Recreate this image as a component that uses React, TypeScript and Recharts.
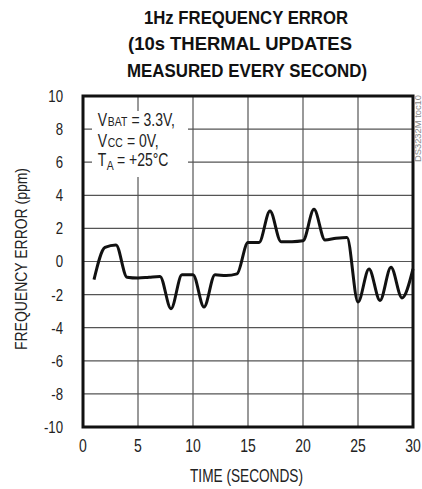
import {
  CartesianGrid,
  Line,
  LineChart,
  ReferenceArea,
  XAxis,
  YAxis,
} from "recharts";

// one reading per second
const seconds = [
  1, 2, 3, 4, 5, 6, 7, 8, 9, 10, 11, 12, 13, 14, 15, 16, 17, 18, 19, 20, 21,
  22, 23, 24, 25, 26, 27, 28, 29, 30,
];
const errorPpm = [
  -1.1, 0.85, 1.0, -0.95, -1.0, -0.95, -0.9, -2.85, -0.8, -0.8, -2.75, -0.8,
  -0.85, -0.75, 1.15, 1.15, 3.05, 1.2, 1.2, 1.25, 3.15, 1.3, 1.4, 1.45, -2.45,
  -0.45, -2.35, -0.35, -2.2, -0.45,
];
const xTicks = [0, 5, 10, 15, 20, 25, 30];
const yTicks = [-10, -8, -6, -4, -2, 0, 2, 4, 6, 8, 10];

const data = seconds.map((t, i) => ({ t, ppm: errorPpm[i] }));

const font = "'Liberation Sans', Arial, Helvetica, sans-serif";
const squeeze = 0.8; // fake a condensed face

const XTick = (props: any) => {
  const { x, y, payload } = props;
  return (
    <text
      transform={`translate(${x},${y}) scale(${squeeze},1)`}
      textAnchor="middle"
      fontFamily={font}
      fontSize={17.5}
      fill="#222"
    >
      {payload.value}
    </text>
  );
};

const YTick = (props: any) => {
  const { x, y, payload } = props;
  return (
    <text
      transform={`translate(${x},${y}) scale(${squeeze},1)`}
      textAnchor="end"
      dy="0.36em"
      fontFamily={font}
      fontSize={16.5}
      fill="#222"
    >
      {payload.value}
    </text>
  );
};

// each piece of the note is its own text, squeezed like the ticks
const Piece = ({ x, y, size, children }: any) => (
  <text
    transform={`translate(${x},${y}) scale(${squeeze},1)`}
    fontFamily={font}
    fontSize={size}
    fill="#222"
  >
    {children}
  </text>
);

export default function App() {
  return (
    <div style={{ position: "absolute", left: 0, top: 0, width: 422, height: 489, background: "#fff" }}>
      <LineChart
        width={422}
        height={489}
        data={data}
        margin={{ top: 96, right: 9, left: 23, bottom: 32 }}
      >
        <CartesianGrid stroke="#555" strokeWidth={1.2} />
        <XAxis
          dataKey="t"
          type="number"
          domain={[0, 30]}
          ticks={xTicks}
          height={30}
          axisLine={false}
          tickLine={false}
          tickSize={0}
          tickMargin={25}
          tick={<XTick />}
        />
        <YAxis
          type="number"
          domain={[-10, 10]}
          ticks={yTicks}
          width={60}
          axisLine={false}
          tickLine={false}
          tickSize={0}
          tickMargin={20}
          tick={<YTick />}
        />
        <ReferenceArea
          x1={0}
          x2={30}
          y1={-10}
          y2={10}
          fill="none"
          stroke="#111"
          strokeWidth={3}
          fillOpacity={0}
          strokeOpacity={1}
        />
        <Line
          type="monotone"
          dataKey="ppm"
          stroke="#111"
          strokeWidth={3}
          dot={false}
          activeDot={false}
          isAnimationActive={false}
        />
      </LineChart>
      <svg
        width={422}
        height={489}
        style={{ position: "absolute", left: 0, top: 0, pointerEvents: "none" }}
      >
        <g fontFamily={font} fontWeight="bold" fontSize={18.5} fill="#111" textAnchor="middle">
          <text x={246} y={23.5} textLength={204} lengthAdjust="spacingAndGlyphs">
            1Hz FREQUENCY ERROR
          </text>
          <text x={240} y={50} textLength={224} lengthAdjust="spacingAndGlyphs">
            (10s THERMAL UPDATES
          </text>
          <text x={247} y={76.7} textLength={240} lengthAdjust="spacingAndGlyphs">
            MEASURED EVERY SECOND)
          </text>
        </g>
        <rect x={92} y={111} width={96} height={66} fill="#fff" />
        <Piece x={97.7} y={126} size={17.5}>V</Piece>
        <Piece x={107.8} y={126} size={13}>BAT</Piece>
        <Piece x={131.5} y={126} size={17.5}>= 3.3V,</Piece>
        <Piece x={97.7} y={146.7} size={17.5}>V</Piece>
        <Piece x={107.8} y={146.7} size={13}>CC</Piece>
        <Piece x={127} y={146.7} size={17.5}>= 0V,</Piece>
        <Piece x={97.7} y={166} size={17.5}>T</Piece>
        <Piece x={106.8} y={170} size={13}>A</Piece>
        <Piece x={117} y={166} size={17.5}>= +25°C</Piece>
        <text
          transform="translate(27, 259) rotate(-90)"
          textAnchor="middle"
          fontFamily={font}
          fontSize={16}
          fill="#222"
          textLength={182}
          lengthAdjust="spacingAndGlyphs"
        >
          FREQUENCY ERROR (ppm)
        </text>
        <text
          x={246.5}
          y={481.5}
          textAnchor="middle"
          fontFamily={font}
          fontSize={18}
          fill="#222"
          textLength={113}
          lengthAdjust="spacingAndGlyphs"
        >
          TIME (SECONDS)
        </text>
        <text
          transform="translate(421, 162) rotate(-90)"
          fontFamily={font}
          fontSize={8.5}
          fill="#888"
          textLength={67}
          lengthAdjust="spacingAndGlyphs"
        >
          DS3232M toc10
        </text>
      </svg>
    </div>
  );
}
